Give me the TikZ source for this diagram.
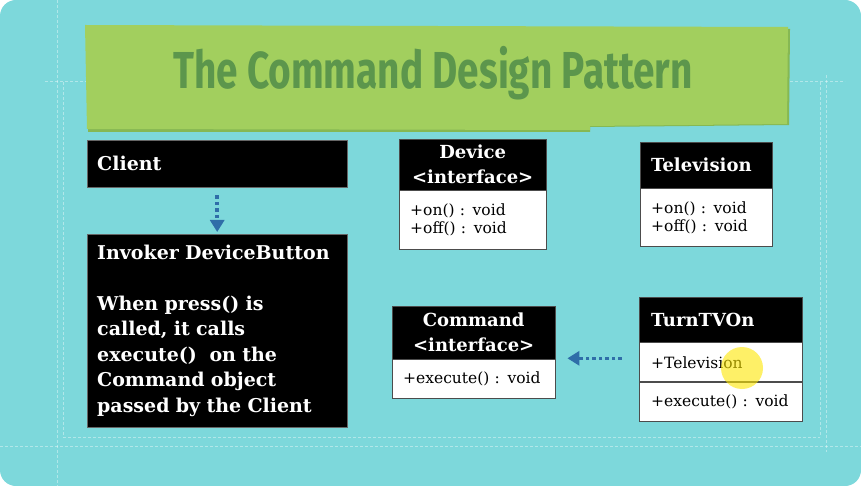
\documentclass[tikz,border=0pt]{standalone}
\usepackage{fontspec}
\setmainfont{DejaVu Serif}
\newfontfamily\titlefont{Fira Sans}
\usetikzlibrary{arrows.meta}
\definecolor{bgcyan}{HTML}{7DD8DB}
\definecolor{bannergreen}{HTML}{A2CF5E}
\definecolor{bannershadow}{HTML}{86B853}
\definecolor{titlegreen}{HTML}{5C964C}
\definecolor{arrowblue}{HTML}{2F6EA8}
\tikzset{
  hdr/.style={draw=black!70, fill=black, text=white, font=\bfseries\fontsize{18}{25}\selectfont, anchor=north west, inner sep=0pt, align=center},
  hdrl/.style={hdr, align=left, text width=#1, inner xsep=11pt},
  bodybox/.style={draw=black!70, line width=0.8pt, fill=white, text=black, font=\fontsize{15.5}{18}\selectfont, anchor=north, inner xsep=11pt, inner ysep=0pt, align=left},
  blackbox/.style={fill=black, draw=black!60, text=white, anchor=north west, inner ysep=0pt, inner xsep=10pt, font=\bfseries\fontsize{19}{25.5}\selectfont, align=left},
  guide/.style={draw=white, opacity=0.4, line width=1pt, dash pattern=on 3pt off 2pt},
  arr/.style={draw=arrowblue, line width=3.5pt, dash pattern=on 3.5pt off 3pt, -{Triangle[width=14pt,length=12pt]}}
}
\begin{document}
\begin{tikzpicture}[x=1pt,y=-1pt]
\useasboundingbox (0,0) rectangle (861,486);
\fill[white] (0,0) rectangle (861,486);
\fill[bgcyan, rounded corners=16pt] (0,0) rectangle (861,486);
% guide lines
\draw[guide] (57,0) -- (57,486);
\draw[guide] (63,82) -- (63,437);
\draw[guide] (826,75) -- (826,452);
\draw[guide] (820,82) -- (820,437);
\draw[guide] (0,446) -- (861,446);
\draw[guide] (63,437) -- (820,437);
\draw[guide] (45,82) -- (90,82);
\draw[guide] (785,82) -- (845,82);
% banner
\fill[bannershadow] (88,28) -- (790,29) -- (789,125) -- (590,127) -- (590,132) -- (88,132) -- cycle;
\fill[bannergreen] (85,25) -- (788,27) -- (787,124) -- (590,126) -- (590,130) -- (87,129) -- cycle;
\node[text=titlegreen, font=\titlefont\bfseries\fontsize{52}{56}\selectfont, xscale=0.745] (title) at (433,73) {The Command Design Pattern};
% client / invoker
\node[blackbox, minimum width=260pt, minimum height=47pt, text width=240pt] (client) at (87,140) {Client};
\node[blackbox, minimum width=260pt, minimum height=193pt, text width=240pt] (inv) at (87,234) {%
Invoker DeviceButton\\[25.5pt]
When press() is\\
called, it calls\\
execute()\ \ on the\\
Command object\\
passed by the Client};
\draw[arr, shorten <=8pt, shorten >=2pt] (client.south) -- (inv.north);
% Device
\node[hdr, minimum width=147pt, minimum height=51pt] (devh) at (399,139) {Device\\\textless interface\textgreater};
\node[bodybox, minimum width=147pt, minimum height=59pt, text width=125pt] (devb) at (devh.south) {+on() : void\\+off() : void};
% Television
\node[hdrl=110pt, minimum width=132pt, minimum height=46pt] (tvh) at (640,142) {Television};
\node[bodybox, minimum width=132pt, minimum height=58pt, text width=110pt] (tvb) at (tvh.south) {+on() : void\\+off() : void};
% Command
\node[hdr, minimum width=163pt, minimum height=53pt] (cmdh) at (392,306) {Command\\\textless interface\textgreater};
\node[bodybox, minimum width=163pt, minimum height=39pt, text width=141pt] (cmdb) at (cmdh.south) {+execute() : void};
% TurnTVOn
\node[hdrl=139pt, minimum width=163pt, minimum height=45pt, inner xsep=12pt] (onh) at (639,297) {TurnTVOn};
\node[bodybox, minimum width=163pt, minimum height=39pt, text width=139pt, inner xsep=12pt] (onm) at (onh.south) {+Television};
\node[bodybox, minimum width=163pt, minimum height=39pt, text width=139pt, inner xsep=12pt] (onb) at (onm.south) {+execute() : void};
\draw[arr, shorten <=17pt, shorten >=12pt] ([yshift=4pt]onm.west) -- ([yshift=4pt]onm.west -| cmdh.east);
% cursor highlight
\fill[yellow!90!orange, opacity=0.6] (742,368) circle (21pt);
\end{tikzpicture}
\end{document}
